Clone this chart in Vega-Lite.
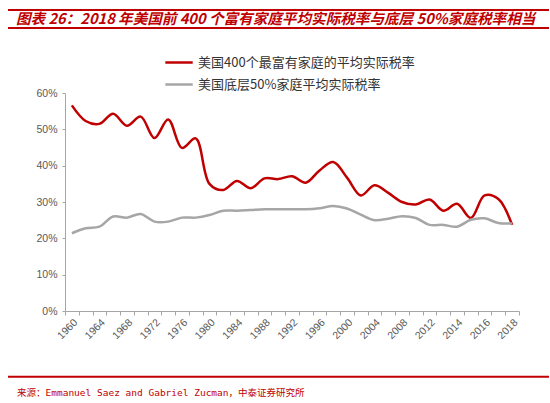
{
  "$schema": "https://vega.github.io/schema/vega-lite/v6.json",
  "background": "white",
  "padding": {"left": 7, "top": 9, "right": 0, "bottom": 0},
  "spacing": 32,
  "config": {"view": {"stroke": null}, "font": "Liberation Sans"},
  "vconcat": [
    {
      "width": 541,
      "height": 45,
      "data": {"values": [{}]},
      "layer": [
        {
          "mark": {"type": "rule", "color": "#C00000", "strokeWidth": 2},
          "encoding": {"y": {"datum": 45, "type": "quantitative", "scale": {"domain": [0, 45]}, "axis": null}}
        },
        {
          "mark": {"type": "rule", "color": "#C00000", "strokeWidth": 2},
          "encoding": {"y": {"datum": 27, "type": "quantitative"}}
        },
        {
          "mark": {"type": "text", "align": "left", "baseline": "middle", "dx": 8, "color": "#C00000",
                   "font": "Noto Sans CJK SC", "fontSize": 14.6, "fontWeight": "bold", "fontStyle": "italic"},
          "encoding": {
            "x": {"datum": 0, "type": "quantitative", "scale": {"domain": [0, 1]}, "axis": null},
            "y": {"datum": 35, "type": "quantitative"},
            "text": {"value": "图表 26：2018 年美国前 400 个富有家庭平均实际税率与底层 50%家庭税率相当"}
          }
        }
      ]
    },
    {
      "spacing": 0,
      "hconcat": [
        {
          "width": 1,
          "height": 1,
          "data": {"values": [{}]},
          "mark": "text",
          "encoding": {"text": {"value": ""}}
        },
        {
          "width": 454,
          "height": 218,
          "data": {
            "values": [
              {"year": 1960, "series": "top", "rate": 0.566}, {"year": 1960, "series": "bottom", "rate": 0.214},
              {"year": 1962, "series": "top", "rate": 0.523}, {"year": 1962, "series": "bottom", "rate": 0.228},
              {"year": 1964, "series": "top", "rate": 0.515}, {"year": 1964, "series": "bottom", "rate": 0.232},
              {"year": 1966, "series": "top", "rate": 0.543}, {"year": 1966, "series": "bottom", "rate": 0.260},
              {"year": 1968, "series": "top", "rate": 0.510}, {"year": 1968, "series": "bottom", "rate": 0.257},
              {"year": 1970, "series": "top", "rate": 0.535}, {"year": 1970, "series": "bottom", "rate": 0.267},
              {"year": 1972, "series": "top", "rate": 0.476}, {"year": 1972, "series": "bottom", "rate": 0.246},
              {"year": 1974, "series": "top", "rate": 0.527}, {"year": 1974, "series": "bottom", "rate": 0.246},
              {"year": 1976, "series": "top", "rate": 0.449}, {"year": 1976, "series": "bottom", "rate": 0.257},
              {"year": 1978, "series": "top", "rate": 0.475}, {"year": 1978, "series": "bottom", "rate": 0.257},
              {"year": 1980, "series": "top", "rate": 0.350}, {"year": 1980, "series": "bottom", "rate": 0.264},
              {"year": 1982, "series": "top", "rate": 0.333}, {"year": 1982, "series": "bottom", "rate": 0.276},
              {"year": 1984, "series": "top", "rate": 0.358}, {"year": 1984, "series": "bottom", "rate": 0.276},
              {"year": 1986, "series": "top", "rate": 0.338}, {"year": 1986, "series": "bottom", "rate": 0.278},
              {"year": 1988, "series": "top", "rate": 0.365}, {"year": 1988, "series": "bottom", "rate": 0.280},
              {"year": 1990, "series": "top", "rate": 0.363}, {"year": 1990, "series": "bottom", "rate": 0.280},
              {"year": 1992, "series": "top", "rate": 0.371}, {"year": 1992, "series": "bottom", "rate": 0.280},
              {"year": 1994, "series": "top", "rate": 0.353}, {"year": 1994, "series": "bottom", "rate": 0.280},
              {"year": 1996, "series": "top", "rate": 0.387}, {"year": 1996, "series": "bottom", "rate": 0.283},
              {"year": 1998, "series": "top", "rate": 0.410}, {"year": 1998, "series": "bottom", "rate": 0.289},
              {"year": 2000, "series": "top", "rate": 0.367}, {"year": 2000, "series": "bottom", "rate": 0.282},
              {"year": 2002, "series": "top", "rate": 0.318}, {"year": 2002, "series": "bottom", "rate": 0.265},
              {"year": 2004, "series": "top", "rate": 0.346}, {"year": 2004, "series": "bottom", "rate": 0.250},
              {"year": 2006, "series": "top", "rate": 0.325}, {"year": 2006, "series": "bottom", "rate": 0.254},
              {"year": 2008, "series": "top", "rate": 0.300}, {"year": 2008, "series": "bottom", "rate": 0.261},
              {"year": 2010, "series": "top", "rate": 0.293}, {"year": 2010, "series": "bottom", "rate": 0.256},
              {"year": 2012, "series": "top", "rate": 0.307}, {"year": 2012, "series": "bottom", "rate": 0.237},
              {"year": 2013, "series": "top", "rate": 0.276}, {"year": 2013, "series": "bottom", "rate": 0.237},
              {"year": 2014, "series": "top", "rate": 0.295}, {"year": 2014, "series": "bottom", "rate": 0.232},
              {"year": 2015, "series": "top", "rate": 0.256}, {"year": 2015, "series": "bottom", "rate": 0.251},
              {"year": 2016, "series": "top", "rate": 0.318}, {"year": 2016, "series": "bottom", "rate": 0.255},
              {"year": 2017, "series": "top", "rate": 0.308}, {"year": 2017, "series": "bottom", "rate": 0.242},
              {"year": 2018, "series": "top", "rate": 0.237}, {"year": 2018, "series": "bottom", "rate": 0.241}
            ]
          },
          "transform": [
            {"calculate": "datum.series == 'top' ? '美国400个最富有家庭的平均实际税率' : '美国底层50%家庭平均实际税率'", "as": "label"}
          ],
          "mark": {"type": "line", "interpolate": "catmull-rom", "strokeWidth": 2.5},
          "encoding": {
            "x": {
              "field": "year",
              "type": "ordinal",
              "bandPosition": 0.5,
              "scale": {"type": "band", "paddingInner": 0, "paddingOuter": 0},
              "axis": {
                "title": null,
                "tickBand": "extent",
                "labelAngle": -45,
                "labelExpr": "(datum.value <= 2012 ? datum.value % 4 == 0 : datum.value % 2 == 0) ? datum.label : ''",
                "domainColor": "#A6A6A6",
                "tickColor": "#A6A6A6",
                "tickSize": 4,
                "labelColor": "#595959",
                "labelFontSize": 10.5,
                "labelPadding": 2,
                "grid": false
              }
            },
            "y": {
              "field": "rate",
              "type": "quantitative",
              "scale": {"domain": [0, 0.6]},
              "axis": {
                "title": null,
                "format": ".0%",
                "values": [0, 0.1, 0.2, 0.3, 0.4, 0.5, 0.6],
                "grid": false,
                "domainColor": "#A6A6A6",
                "tickColor": "#A6A6A6",
                "tickSize": 3,
                "labelColor": "#595959",
                "labelFontSize": 10.5,
                "labelPadding": 5,
                "minExtent": 56,
                "maxExtent": 56
              }
            },
            "color": {
              "field": "label",
              "type": "nominal",
              "scale": {
                "domain": ["美国400个最富有家庭的平均实际税率", "美国底层50%家庭平均实际税率"],
                "range": ["#C00000", "#A6A6A6"]
              },
              "legend": {
                "title": null,
                "orient": "none",
                "legendX": 156,
                "legendY": 37.5,
                "padding": 0,
                "symbolType": "stroke",
                "symbolSize": 750,
                "symbolStrokeWidth": 2.5,
                "labelFont": "Noto Sans CJK SC",
                "labelFontSize": 13,
                "labelColor": "#333333",
                "labelLimit": 400,
                "labelOffset": 4,
                "rowPadding": -8.5
              }
            }
          }
        }
      ]
    },
    {
      "width": 541,
      "height": 24,
      "data": {"values": [{}]},
      "layer": [
        {
          "mark": {"type": "rule", "color": "#C00000", "strokeWidth": 2},
          "encoding": {"y": {"datum": 20.3, "type": "quantitative", "scale": {"domain": [0, 24]}, "axis": null}}
        },
        {
          "mark": {"type": "text", "align": "left", "baseline": "middle", "dx": 9, "color": "#C00000",
                   "font": "DejaVu Sans Mono, Noto Sans CJK SC", "fontSize": 9.5},
          "encoding": {
            "x": {"datum": 0, "type": "quantitative", "scale": {"domain": [0, 1]}, "axis": null},
            "y": {"datum": 4, "type": "quantitative"},
            "text": {"value": "来源：Emmanuel Saez and Gabriel Zucman，中泰证券研究所"}
          }
        }
      ]
    }
  ]
}
